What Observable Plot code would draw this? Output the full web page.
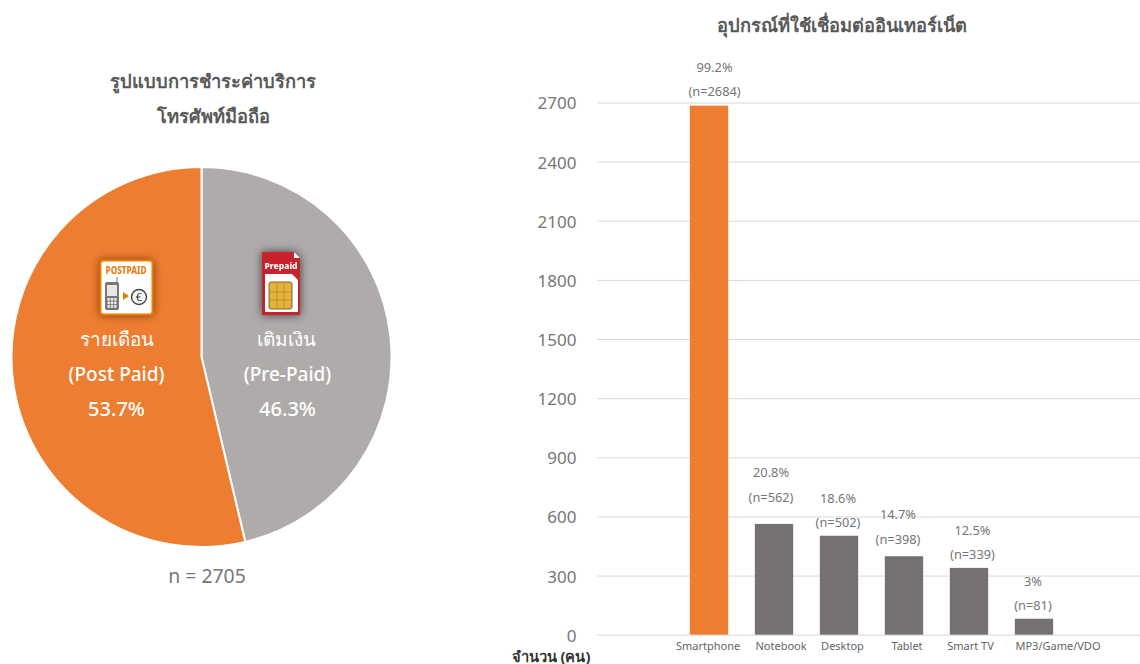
<!DOCTYPE html>
<html lang="th">
<head>
<meta charset="utf-8">
<script src="https://cdn.jsdelivr.net/npm/d3@7"></script>
<script src="https://cdn.jsdelivr.net/npm/@observablehq/plot@0.6"></script>
<style>
html,body{margin:0;padding:0;background:#fff;width:1140px;height:664px;overflow:hidden}
svg{display:block;font-family:"Noto Sans","Open Sans",sans-serif}
</style>
</head>
<body>
<div id="chart"></div>
<script>
// ---- data ----
const paymentNames = ["เติมเงิน", "รายเดือน"];
const paymentEnglish = ["(Pre-Paid)", "(Post Paid)"];
const paymentShares = [46.3, 53.7];
const paymentTotal = "n = 2705";

const deviceNames = ["Smartphone", "Notebook", "Desktop", "Tablet", "Smart TV", "MP3/Game/VDO"];
const deviceCounts = [2684, 562, 502, 398, 339, 81];
const devicePercents = ["99.2%", "20.8%", "18.6%", "14.7%", "12.5%", "3%"];
const yTicks = [0, 300, 600, 900, 1200, 1500, 1800, 2100, 2400, 2700];

const leftTitle = ["รูปแบบการชำระค่าบริการ", "โทรศัพท์มือถือ"];
const rightTitle = "อุปกรณ์ที่ใช้เชื่อมต่ออินเทอร์เน็ต";
const yAxisNote = "จำนวน (คน)";

// ---- styles and layout ----
const ORANGE = "#ED7D31", PIE_GRAY = "#AFABAB", BAR_GRAY = "#767171";
const W = 1140, H = 664, ML = 597, MT = 102.5, MB = 29.3;
const devices = deviceNames.map((name, i) => ({name, count: deviceCounts[i], pct: devicePercents[i]}));

// hand-placed label nudges as in the reference: [dx of value labels, gap above bar, dx of category]
const nudges = {
  "Smartphone": [5, 14, -1.5],
  "Notebook": [-3.5, 27, 6.5],
  "Desktop": [-1.5, 13, 3],
  "Tablet": [-6.5, 17, 2.5],
  "Smart TV": [3, 13, 1],
  "MP3/Game/VDO": [-1.5, 13, 23.5]
};

// free-standing text, placed in SVG pixels
const note = (text, x, y, o = {}) => Plot.text([text], {
  text: d => d, frameAnchor: "top-left", lineAnchor: "middle",
  dx: x - ML, dy: y - MT, textAnchor: "middle", fontSize: 17, fill: "#6b6b6b", ...o
});

// pie drawn with d3.pie/d3.arc as a custom Plot mark
function pieMark() {
  const cx = 201.5, cy = 357, r = 190;
  const arcs = d3.pie().sort(null)(paymentShares);
  const arc = d3.arc().innerRadius(0).outerRadius(r);
  const g = d3.create("svg:g").attr("transform", `translate(${cx},${cy})`);
  g.selectAll("path").data(arcs).join("path")
    .attr("d", arc)
    .attr("fill", (d, i) => i === 0 ? PIE_GRAY : ORANGE)
    .attr("stroke", "#fff").attr("stroke-width", 2);
  return g.node();
}

function iconsMark() {
  const root = d3.create("svg:g");
  // Postpaid
  const a = root.append("g").attr("transform", "translate(100,260)")
    .style("filter", "drop-shadow(0 0 4px rgba(90,40,0,.75))");
  a.append("rect").attr("x", .5).attr("y", .5).attr("width", 52).attr("height", 54).attr("rx", 3)
    .attr("fill", "#fff").attr("stroke", "#EF7D00").attr("stroke-width", 2);
  a.append("text").attr("x", 26).attr("y", 13.5).attr("text-anchor", "middle")
    .attr("font-size", 10).attr("font-weight", 800).attr("fill", "#F07A10").attr("textLength", 41)
    .attr("lengthAdjust", "spacingAndGlyphs").text("POSTPAID");
  a.append("line").attr("x1", 17).attr("x2", 17).attr("y1", 17).attr("y2", 23).attr("stroke", "#777");
  a.append("rect").attr("x", 5).attr("y", 22).attr("width", 14).attr("height", 28).attr("rx", 2).attr("fill", "#777");
  a.append("rect").attr("x", 7).attr("y", 25).attr("width", 10).attr("height", 11).attr("fill", "#e8e8e8");
  a.selectAll("rect.k").data(d3.range(9)).join("rect").attr("class", "k")
    .attr("x", i => 7.5 + (i % 3) * 3.3).attr("y", i => 38 + Math.floor(i / 3) * 3.6)
    .attr("width", 2.4).attr("height", 2.6).attr("fill", "#eee");
  a.append("path").attr("d", "M23 32 l6 4 l-6 4z").attr("fill", "#EF7D00");
  a.append("circle").attr("cx", 39).attr("cy", 37).attr("r", 7.5)
    .attr("fill", "#f5f5f5").attr("stroke", "#444").attr("stroke-width", 1.4);
  a.append("text").attr("x", 39).attr("y", 41).attr("text-anchor", "middle")
    .attr("font-size", 11).attr("fill", "#333").text("€");
  // Prepaid
  const b = root.append("g").attr("transform", "translate(262,252)")
    .style("filter", "drop-shadow(0 0 5px rgba(0,0,0,.65))");
  b.append("path").attr("d", "M0 0H32L38 6V63H0Z").attr("fill", "#C8232C");
  b.append("path").attr("d", "M32 0L38 6H32Z").attr("fill", "#fff");
  b.append("text").attr("x", 19).attr("y", 16.5).attr("text-anchor", "middle")
    .attr("font-size", 9.5).attr("font-weight", 800).attr("fill", "#fff").attr("textLength", 33)
    .attr("lengthAdjust", "spacingAndGlyphs").text("Prepaid");
  b.append("path").attr("d", "M3 22H30L36 28V60H3Z").attr("fill", "#fff");
  b.append("rect").attr("x", 7).attr("y", 30).attr("width", 23).attr("height", 27).attr("rx", 2)
    .attr("fill", "#E3B23A").attr("stroke", "#5a4a20").attr("stroke-width", .8);
  b.append("path").attr("d", "M7 40H30M7 48H30M15 30V57M22 30V57").attr("stroke", "#B98D22").attr("stroke-width", .8).attr("fill", "none");
  return root.node();
}

const pieText = (lines, x, dxs) => lines.map((t, i) =>
  note(t, x + dxs[i], 339 + i * 35, {fill: "#fff", fontSize: i === 2 ? 20 : 19, fontWeight: 500}));

const fmtN = d => `(n=${d.count})`;
const labelMarks = devices.flatMap(d => {
  const [dx, gap, catDx] = nudges[d.name];
  return [
    Plot.text([d], {x: "name", y: "count", text: fmtN, dx, dy: -gap, lineAnchor: "middle", fontSize: 12.8, fill: "#767676"}),
    Plot.text([d], {x: "name", y: "count", text: "pct", dx, dy: -gap - 24.5, lineAnchor: "middle", fontSize: 12.8, fill: "#767676"}),
    Plot.text([d], {x: "name", text: "name", frameAnchor: "bottom", dx: catDx, dy: 11, lineAnchor: "middle", fontSize: 11, fill: "#636363"})
  ];
});

const plot = Plot.plot({
  width: W, height: H,
  marginLeft: ML, marginRight: 0, marginTop: MT, marginBottom: MB,
  style: {background: "#fff", overflow: "visible"},
  x: {type: "band", domain: deviceNames, range: [663.2, 1079.8], padding: 0.41, round: false, axis: null},
  y: {domain: [0, 2700], ticks: yTicks, axis: null},
  marks: [
    pieMark,
    iconsMark,
    Plot.ruleY(yTicks, {stroke: "#d9d9d9", strokeWidth: 1}),
    Plot.axisY(yTicks, {anchor: "left", tickSize: 0, tickPadding: 21, dy: 1, fontSize: 17, color: "#767676", label: null, tickFormat: d => String(d)}),
    Plot.barY(devices, {x: "name", y: "count", fill: d => d.name === "Smartphone" ? ORANGE : BAR_GRAY}),
    ...labelMarks,
    ...leftTitle.map((t, i) => note(t, 212.5, 82 + i * 35, {fontSize: 18.3, fontWeight: 700, fill: "#595959"})),
    note(rightTitle, 841.5, 26, {fontSize: 18.3, fontWeight: 700, fill: "#595959"}),
    note(paymentTotal, 206.5, 576, {fontSize: 19.4, fill: "#767676"}),
    note(yAxisNote, 550.5, 656.5, {fontSize: 14.7, fontWeight: 700, fill: "#333"}),
    ...pieText([paymentNames[1], paymentEnglish[1], paymentShares[1] + "%"], 116, [0, 0, 0]),
    ...pieText([paymentNames[0], paymentEnglish[0], paymentShares[0] + "%"], 287, [-1, 0, 0])
  ]
});
document.getElementById("chart").append(plot);
</script>
</body>
</html>
